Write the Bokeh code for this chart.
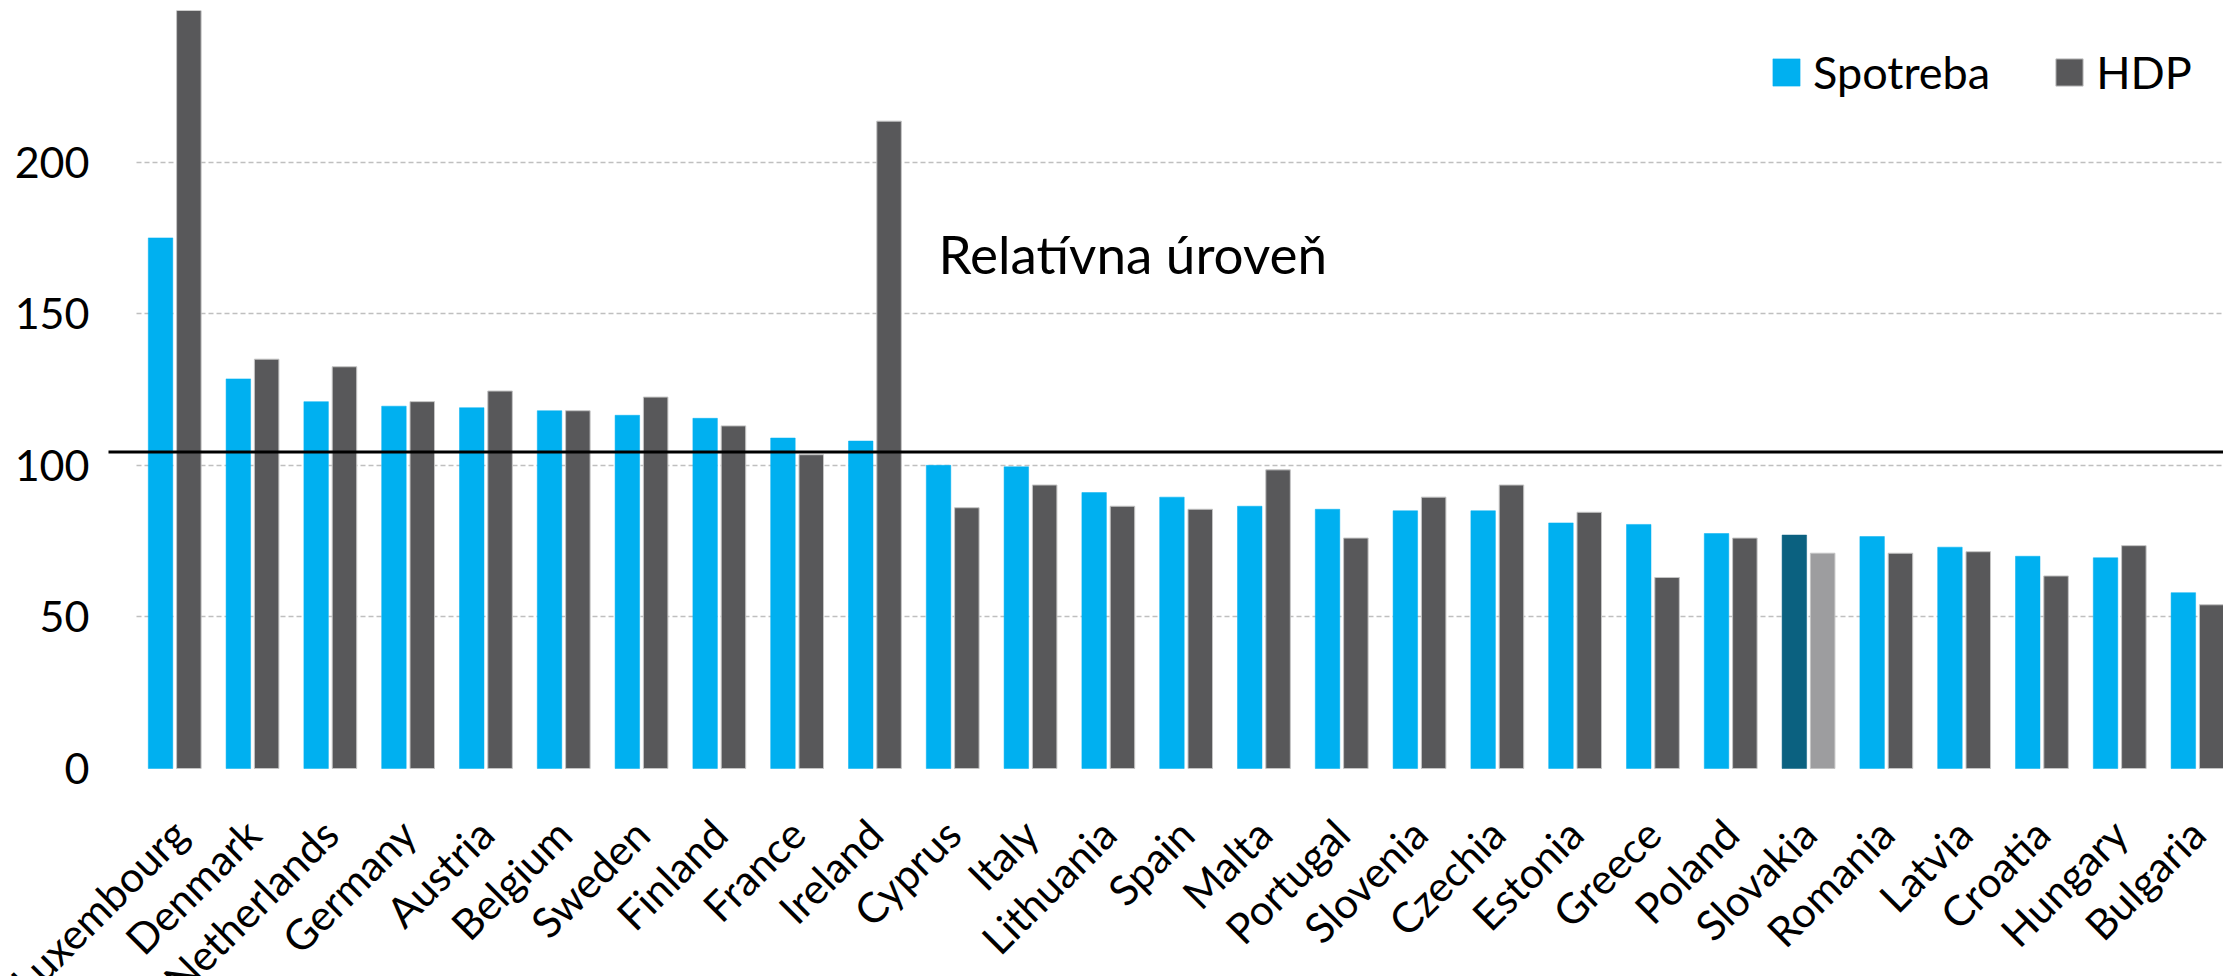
import math
from bokeh.plotting import figure
from bokeh.models import (ColumnDataSource, Range1d, FixedTicker, Label,
                          Legend, LegendItem)
from bokeh.embed import file_html
from bokeh.resources import INLINE

# ---- data ----
countries = ["Luxembourg", "Denmark", "Netherlands", "Germany", "Austria", "Belgium",
             "Sweden", "Finland", "France", "Ireland", "Cyprus", "Italy", "Lithuania",
             "Spain", "Malta", "Portugal", "Slovenia", "Czechia", "Estonia", "Greece",
             "Poland", "Slovakia", "Romania", "Latvia", "Croatia", "Hungary", "Bulgaria"]
spotreba = [175, 128.5, 121, 119.5, 119, 118, 116.5, 115.5, 109, 108, 100, 99.5, 91,
            89.5, 86.5, 85.5, 85, 85, 81, 80.5, 77.5, 77, 76.5, 73, 70, 69.5, 58]
hdp = [261, 135, 132.5, 121, 124.5, 118, 122.5, 113, 103.5, 213.5, 86, 93.5, 86.5,
       85.5, 98.5, 76, 89.5, 93.5, 84.5, 63, 76, 71, 71, 71.5, 63.5, 73.5, 54]
relative_level = 104.4
y_ticks = [0, 50, 100, 150, 200]
grid_ticks = [50, 100, 150, 200]
highlight = "Slovakia"

FONT = "Lato"
BLUE = "#00B0F0"
GRAY = "#58585A"
BLUE_HL = "#0B6180"
GRAY_HL = "#9D9D9F"

# layout constants (pixels)
FRAME_W = 2223
BAR_AREA_H = 758          # height of the 0..Y_MAX part
LABEL_AREA_H = 208        # room below the zero line for the category labels
Y_MAX = 250.0
PX_PER_UNIT = BAR_AREA_H / Y_MAX
CAT_PX = 77.8
FIRST_CAT_LEFT_PX = 135.3
X_START = -0.5 - FIRST_CAT_LEFT_PX / CAT_PX
X_END = X_START + FRAME_W / CAT_PX
Y_AXIS_X = X_START + 108 / CAT_PX      # where the value axis sits

xs = list(range(len(countries)))
src = ColumnDataSource(dict(
    x=xs,
    xs=[i - 0.182 for i in xs],
    xh=[i + 0.182 for i in xs],
    spotreba=spotreba,
    hdp=hdp,
    cs=[BLUE_HL if c == highlight else BLUE for c in countries],
    ch=[GRAY_HL if c == highlight else GRAY for c in countries],
))

p = figure(frame_width=FRAME_W, frame_height=BAR_AREA_H + LABEL_AREA_H,
           x_range=Range1d(X_START, X_END),
           y_range=Range1d(-LABEL_AREA_H / PX_PER_UNIT, Y_MAX),
           output_backend="svg", toolbar_location=None,
           min_border_left=0, min_border_right=0, min_border_top=10,
           min_border_bottom=0)
p.outline_line_color = None
p.background_fill_color = "white"
p.border_fill_color = "white"

r1 = p.vbar(x="xs", top="spotreba", width=0.315, bottom=0, source=src,
            fill_color="cs", line_color="cs", line_width=0.5)
r2 = p.vbar(x="xh", top="hdp", width=0.315, bottom=0, source=src,
            fill_color="ch", line_color="#C4C4C4", line_width=1)

# grid
p.xgrid.visible = False
p.ygrid.ticker = FixedTicker(ticks=grid_ticks)
p.ygrid.grid_line_color = "#BFBFBF"
p.ygrid.grid_line_dash = "5 3"
p.ygrid.grid_line_width = 1.5
try:
    p.ygrid.cross_bounds = (-0.49, X_END + 1)
except Exception:
    pass

# y axis, pinned inside the frame
ya = p.yaxis[0]
ya.fixed_location = Y_AXIS_X
ya.ticker = FixedTicker(ticks=y_ticks)
ya.axis_line_color = None
ya.major_tick_line_color = None
ya.minor_tick_line_color = None
ya.major_tick_out = 0
ya.major_tick_in = 0
ya.major_label_standoff = 19
ya.major_label_text_font = FONT
ya.major_label_text_font_size = "43px"
ya.major_label_text_color = "black"

# x axis pinned at the zero line, rotated category labels
xa = p.xaxis[0]
xa.fixed_location = 0
xa.ticker = FixedTicker(ticks=xs)
xa.major_label_overrides = {i: c for i, c in zip(xs, countries)}
xa.major_label_orientation = math.pi / 4
xa.axis_line_color = None
xa.major_tick_line_color = None
xa.minor_tick_line_color = None
xa.major_tick_out = 0
xa.major_tick_in = 0
xa.major_label_standoff = 58
xa.major_label_text_font = FONT
xa.major_label_text_font_size = "42px"
xa.major_label_text_color = "black"

# reference line (from the value axis to the right edge)
p.segment(x0=Y_AXIS_X, y0=relative_level, x1=X_END + 1, y1=relative_level,
          line_color="black", line_width=3)

# annotation
p.add_layout(Label(x=9.817, y=170, text="Relatívna úroveň",
                   text_font=FONT, text_font_size="53px", text_color="black",
                   text_baseline="alphabetic", text_align="left"))

legend = Legend(items=[LegendItem(label="Spotreba", renderers=[r1]),
                       LegendItem(label="HDP", renderers=[r2])],
                orientation="horizontal", location=(1769, 877),
                glyph_width=34, glyph_height=34, label_standoff=10, spacing=62,
                padding=0, margin=0, border_line_color=None,
                background_fill_alpha=0,
                label_text_font=FONT, label_text_font_size="45px",
                label_text_color="black")
p.add_layout(legend)

open("out.html", "w").write(file_html(p, INLINE))
